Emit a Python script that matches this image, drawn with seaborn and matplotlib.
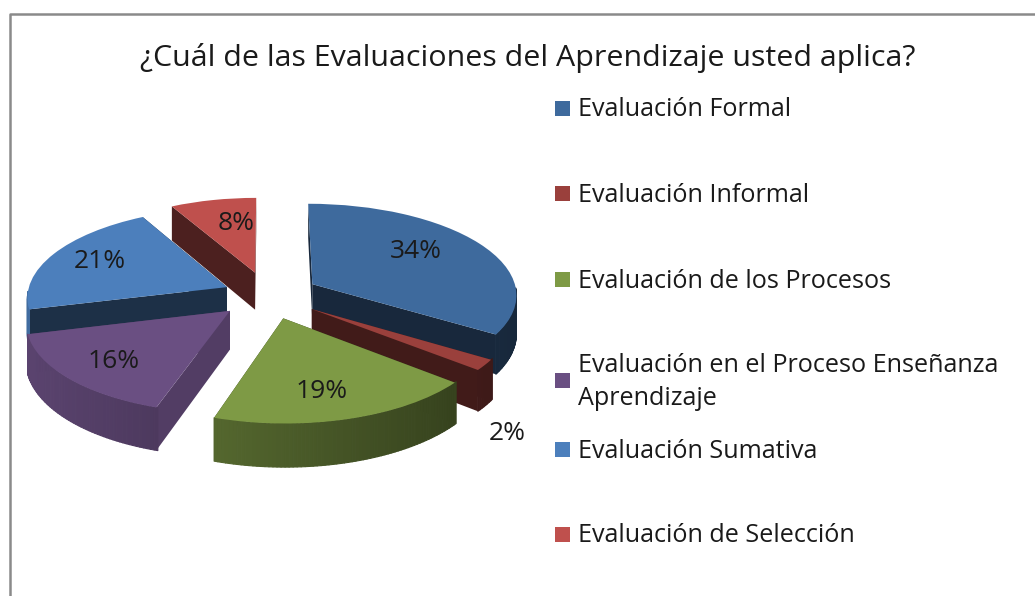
import numpy as np
import matplotlib
matplotlib.use("Agg")
import matplotlib.pyplot as plt
import seaborn as sns
from matplotlib.collections import PolyCollection
from matplotlib.colors import to_rgb
from matplotlib.patches import Rectangle
from matplotlib.transforms import Transform

# chart data
title = "¿Cuál de las Evaluaciones del Aprendizaje usted aplica?"
categories = [
    "Evaluación Formal",
    "Evaluación Informal",
    "Evaluación de los Procesos",
    "Evaluación en el Proceso Enseñanza\nAprendizaje",
    "Evaluación Sumativa",
    "Evaluación de Selección",
]
percent = [34, 2, 19, 16, 21, 8]
colors = ["#3e6a9d", "#9a403c", "#7e9a45", "#6a4f82", "#4c7fbc", "#bf504d"]

W, H = 1035, 596
CX, CY, RX, RY = 268, 295, 205, 91
TILT = 0.105
DEPTH = 38


class Perspective(Transform):
    # tilts the flat pie away from the viewer, output is in picture pixels
    input_dims = 2
    output_dims = 2
    is_affine = False

    def transform_non_affine(self, values):
        values = np.asarray(values, dtype=float)
        k = 1 + TILT * values[:, 1]
        return np.column_stack((CX + RX * values[:, 0] / k, CY - RY * values[:, 1] / k))


sns.set_theme(style="white")
plt.rcParams["font.family"] = ["Open Sans", "DejaVu Sans"]

fig = plt.figure(figsize=(W / 100, H / 100), dpi=100, facecolor="white")
ax = fig.add_axes([0, 0, 1, 1])

wedges, _, pct_texts = ax.pie(
    percent,
    colors=colors,
    explode=[0.25, 0.26, 0.26, 0.25, 0.22, 0.26],
    startangle=90,
    counterclock=False,
    radius=1,
    autopct="%d%%",
    wedgeprops={"linewidth": 0},
    textprops={"fontsize": 19, "color": "#1a1a1a"},
)
ax.set_aspect("auto")
ax.set_xlim(0, W)
ax.set_ylim(H, 0)
ax.axis("off")

persp = Perspective()
to_pixels = persp + ax.transData


def ground(points):
    # returns top edge in pixels and the same edge dropped by the slice thickness
    points = np.asarray(points)
    top = persp.transform_non_affine(points)
    drop = DEPTH / (1 + TILT * points[:, 1])
    return top, top + np.column_stack((np.zeros(len(top)), drop))


# side walls, painted back to front
draw_order = [5, 4, 0, 1, 3, 2]
edge_shade = {0: 0.38, 1: 0.42, 2: 0.4, 3: 0.77, 4: 0.38, 5: 0.4}
radius_fit = {0: 1.0, 1: 0.95, 2: 0.98, 3: 0.97, 4: 0.975, 5: 0.95}
for rank, i in enumerate(draw_order):
    w = wedges[i]
    z = 3 + rank * 2
    w.set_radius(radius_fit[i])
    w.set_transform(to_pixels)
    w.set_zorder(z + 1)
    base = np.array(to_rgb(colors[i]))
    x0, y0 = w.center
    r = w.r

    walls = []
    for t in (w.theta1, w.theta2):
        a = np.radians(t)
        top, low = ground([(x0, y0), (x0 + r * np.cos(a), y0 + r * np.sin(a))])
        walls.append([top[0], top[1], low[1], low[0]])
    ax.add_collection(PolyCollection(walls, facecolors=[base * edge_shade[i]],
                                     edgecolors="none", zorder=z))

    # outer rim gets darker to the right
    angles = np.arange(w.theta1, w.theta2 + 1, 1.0)
    quads, shades = [], []
    for a, b in zip(angles[:-1], angles[1:]):
        if np.sin(np.radians((a + b) / 2)) >= -0.05:
            continue
        top, low = ground([(x0 + r * np.cos(np.radians(t)), y0 + r * np.sin(np.radians(t))) for t in (a, b)])
        quads.append([top[0], top[1], low[1], low[0]])
        shades.append(base * (0.85 - (top[:, 0].mean() - 30) / 480 * 0.47))
    if quads:
        ax.add_collection(PolyCollection(quads, facecolors=shades, edgecolors=shades,
                                         linewidths=0.8, zorder=z))

# percentage labels
label_px = [(416, 251), (507, 433), (322, 391), (114, 362), (100, 262), (236, 223)]
for t, pos in zip(pct_texts, label_px):
    t.set_position(pos)
    t.set_zorder(30)
    t.set_ha("center")
    t.set_va("center")

# title
ax.text(528, 58, title, ha="center", va="center", fontsize=21.9, color="#1a1a1a")

# legend, the slots are not evenly spaced once a label wraps
legend_y = [110, 195, 281, 382, 451, 536]
for name, col, y in zip(categories, colors, legend_y):
    ax.add_patch(Rectangle((555, y - 9), 15, 15, facecolor=col, edgecolor="none"))
    ax.text(578, y, name, ha="left", va="center", fontsize=18.1, color="#1a1a1a", linespacing=1.45)

# chart frame, cropped at the bottom of the picture
ax.plot([9.5, 9.5, W], [H, 13.5, 13.5], color="#8a8a8a", linewidth=1.8, clip_on=False)

fig.savefig("out.png", dpi=100)
